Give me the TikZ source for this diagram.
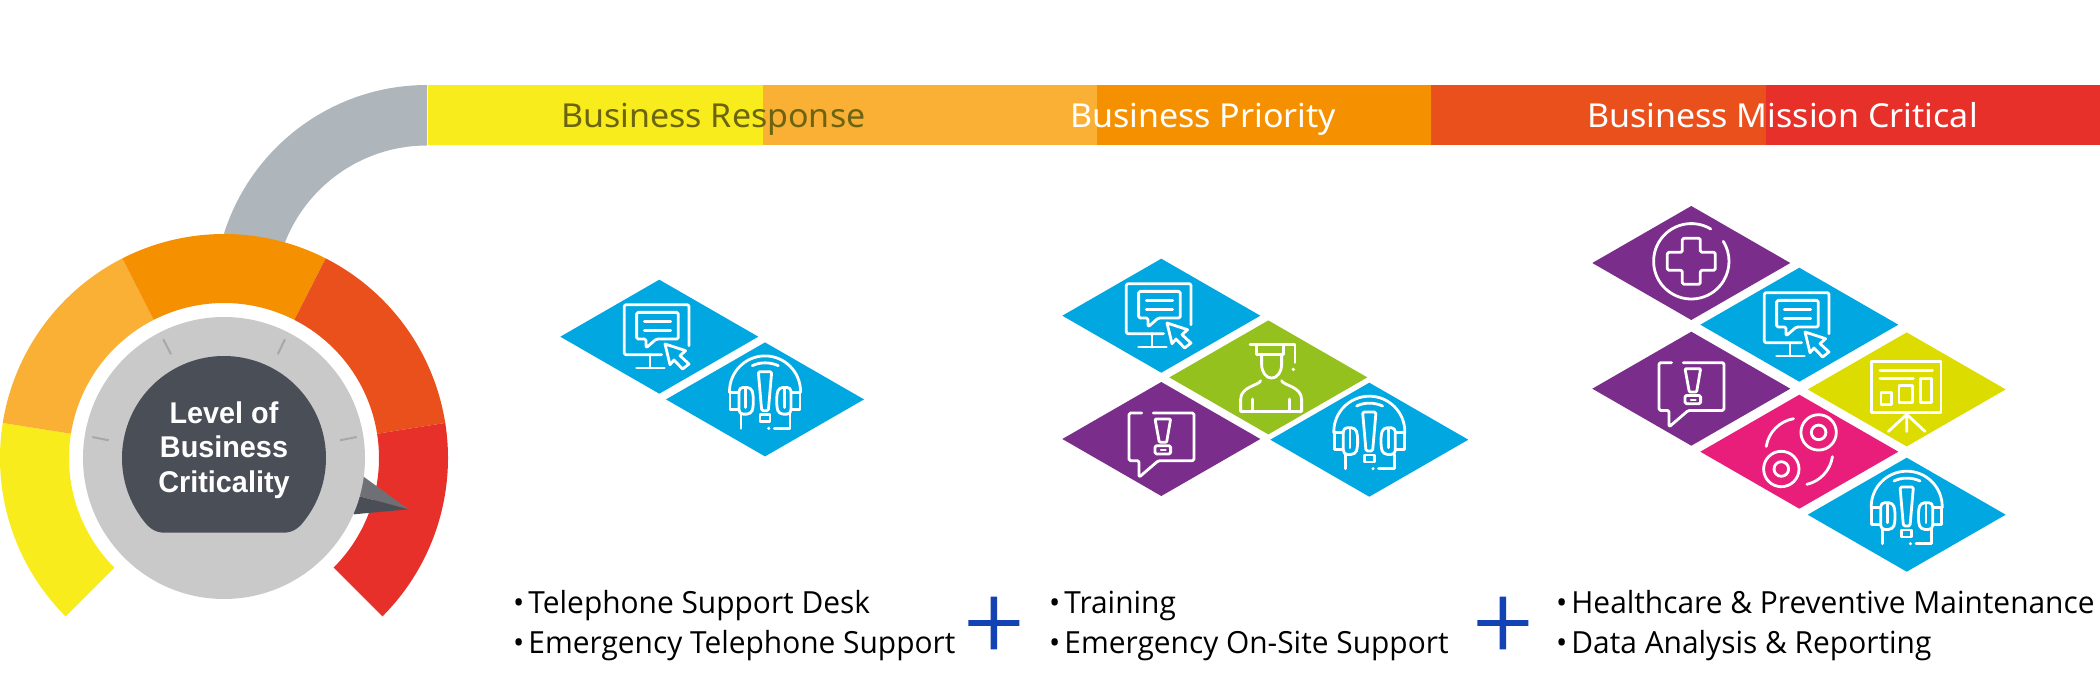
\documentclass[tikz,border=0pt]{standalone}
\usepackage{fontspec}
\setmainfont{Open Sans}
\newfontfamily\barfont[FakeStretch=1.03]{Noto Sans}
\newfontfamily\capfont[FakeStretch=0.96]{Liberation Sans}
\newfontfamily\listfont[FakeStretch=0.98]{Open Sans}
\usetikzlibrary{calc}
\definecolor{cYel}{HTML}{F9EC1C}
\definecolor{cLor}{HTML}{FAB035}
\definecolor{cOra}{HTML}{F59100}
\definecolor{cRor}{HTML}{EA501B}
\definecolor{cRed}{HTML}{E7302A}
\definecolor{cArc}{HTML}{AEB5BB}
\definecolor{cDial}{HTML}{C9C9C9}
\definecolor{cTick}{HTML}{A6A8AA}
\definecolor{cDark}{HTML}{4A4E57}
\definecolor{cPtr}{HTML}{6E7076}
\definecolor{cBarTxt}{HTML}{6B6411}
\definecolor{cBlue}{HTML}{00A7E1}
\definecolor{cGreen}{HTML}{95C11F}
\definecolor{cPurple}{HTML}{7B2D8B}
\definecolor{cLime}{HTML}{DCDC00}
\definecolor{cPink}{HTML}{E91E7B}
\definecolor{cPlus}{HTML}{1342B4}
\tikzset{
  ink/.style={draw=white,line width=2.8pt,line cap=round,line join=round},
  bartext/.style={anchor=base west,inner sep=0pt,font=\barfont\fontsize{33}{33}\selectfont},
  listtext/.style={anchor=base west,inner sep=0pt,font=\listfont\fontsize{30.5}{30.5}\selectfont,text=black},
  tile/.pic={\fill[#1] (-99,0)--(0,-57)--(99,0)--(0,57)--cycle;},
  monitor/.pic={
    \draw[ink,rounded corners=2pt] (2.3,18)--(-35,18)--(-35,-32)--(29.7,-32)--(29.7,9);
    \draw[ink] (-9.3,18)--(-9.3,31.3) (-22.7,31.3)--(5,31.3);
    \draw[ink,rounded corners=1.5pt] (-22.7,-24.3)--(19,-24.3)--(19,2.3)--(-3,2.3)--(-13.3,11.3)--(-13.3,2.3)--(-22.7,2.3)--cycle;
    \draw[ink] (-15,-15)--(11.3,-15) (-15,-6)--(11.3,-6);
    \draw[ink] (5.7,7.3)--(26.3,14)--(20.7,19)--(29.7,27.3)--(23.3,32.3)--(14.7,23.3)--(10.7,28)--cycle;
  },
  headset/.pic={
    \draw[ink] (-35.5,-7)--(-35.5,-8) arc[start angle=180,end angle=0,radius=35.5pt]--(35.5,-7);
    \draw[ink] (-12.7,-33.7) .. controls (-5,-37.5) and (5,-37.5) .. (13.3,-33.7);
    \draw[ink,rounded corners=1.5pt] (-6.7,-27.7)--(6.7,-27.7)--(3.3,11.3)--(-3.3,11.3)--cycle;
    \draw[ink] (-5,15.3) rectangle (5,22.3);
    \draw[ink,rounded corners=4pt] (-26,-12)--(-14,-12)--(-11.7,-5)--(-11.7,8)--(-14,14.7)--(-26,14.7)--cycle;
    \draw[ink,rounded corners=4pt] (26,-12)--(14,-12)--(11.7,-5)--(11.7,8)--(14,14.7)--(26,14.7)--cycle;
    \draw[ink] (-26,-7)--(-35,-7)--(-35,10)--(-26,10) (26,-7)--(35,-7)--(35,10)--(26,10);
    \draw[ink] (-19.3,-10)--(-19.3,8) (19.3,-10)--(19.3,8);
    \draw[ink] (-24,15)--(-24,29);
    \draw[ink] (25,15)--(25,29)--(9.3,29);
    \fill[white] (3.7,29) circle[radius=1.7pt];
  },
  graduate/.pic={
    \draw[ink] (-18.3,-33.3)--(26.7,-33.3)--(26.7,-15);
    \draw[ink] (-11.7,-32)--(-11.7,-23.3)--(15,-23.3)--(15,-32);
    \fill[white] (25,-8) circle[radius=1.8pt];
    \draw[ink] (-6.7,-23.3)--(-6.7,-13.3) .. controls (-6.7,-5) and (-2,0.7) .. (3.3,0.7) .. controls (8.6,0.7) and (13.3,-5) .. (13.3,-13.3)--(13.3,-23.3);
    \draw[ink] (-7.7,3.3) .. controls (-9,8) and (-27.7,9) .. (-27.7,22)--(-27.7,34)--(33.3,34)--(33.3,22) .. controls (33.3,9) and (14.6,8) .. (13.3,3.3);
    \draw[ink] (-15.7,21.7)--(-15.7,34) (21,21.7)--(21,34);
  },
  alert/.pic={
    \draw[ink,rounded corners=1.5pt] (-19.7,-26)--(-32.3,-26)--(-32.3,21.7)--(-22.3,21.7)--(-22.3,38.3)--(-3,21.7)--(32.7,21.7)--(32.7,-26)--(-8,-26);
    \draw[ink,rounded corners=1pt] (-6.3,-20)--(9.3,-20)--(5.3,3.3)--(-2,3.3)--cycle;
    \draw[ink,rounded corners=1.5pt] (-6.3,6.7) rectangle (9.3,15);
    \draw[ink,line width=1.6pt] (-0.5,11)--(4.5,11);
  },
  medical/.pic={
    \draw[ink] (0,-1.7) ++(59:37.7pt) arc[start angle=59,end angle=392,radius=37.7pt];
    \draw[ink,rounded corners=1.5pt] (-9,-24.7)--(9,-24.7)--(9,-10.7)--(24,-10.7)--(24,7.3)--(9,7.3)--(9,21.3)--(-9,21.3)--(-9,7.3)--(-24,7.3)--(-24,-10.7)--(-9,-10.7)--cycle;
  },
  chart/.pic={
    \draw[ink] (-35,-27.7) rectangle (34.3,23);
    \draw[ink] (-26.7,-18.7)--(25.7,-18.7) (-26.7,-11)--(6.7,-11);
    \draw[ink] (-25.7,3) rectangle (-15,14.7);
    \draw[ink] (-7.7,-4.3) rectangle (5.7,13);
    \draw[ink] (14,-11) rectangle (25,13);
    \draw[ink] (0,25)--(-18.3,42) (0,25)--(0,42) (0,25)--(18.3,42);
  },
  discs/.pic={
    \draw[ink] (19.3,-19.3) circle[radius=17.7pt] (19.3,-19.3) circle[radius=7.3pt];
    \draw[ink] (-18,17.3) circle[radius=17.7pt] (-18,17.3) circle[radius=7.3pt];
    \draw[ink] (0,0) ++(100:33.5pt) arc[start angle=100,end angle=171,radius=33.5pt];
    \draw[ink] (0,0) ++(-8.5:33.5pt) arc[start angle=-8.5,end angle=-77,radius=33.5pt];
  }
}
\newcommand{\ringseg}[3]{\fill[#1] ($(g)+(#2:224pt)$) arc[start angle=#2,end angle=#3,radius=224pt] -- ($(g)+(#3:155pt)$) arc[start angle=#3,end angle=#2,radius=155pt] -- cycle;}
\begin{document}
\begin{tikzpicture}[x=1pt,y=-1pt]
\path[use as bounding box] (0,0) rectangle (2100,700);
\coordinate (h) at (427,298);
% connector arc
\fill[cArc] ($(h)+(90:213pt)$) arc[start angle=90,end angle=165,radius=213pt] -- ($(h)+(165:152.5pt)$) arc[start angle=165,end angle=90,radius=152.5pt] -- cycle;
% bar
\fill[cYel] (427.5,85) rectangle (762.5,145.5);
\fill[cLor] (762.5,85) rectangle (1097,145.5);
\fill[cOra] (1097,85) rectangle (1431,145.5);
\fill[cRor] (1431,85) rectangle (1765.5,145.5);
\fill[cRed] (1765.5,85) rectangle (2100,145.5);
\node[bartext,text=cBarTxt] (t1) at (561,128) {Business Response};
\node[bartext,text=white] (t2) at (1070,128) {Business Priority};
\node[bartext,text=white] (t3) at (1587,128) {Business Mission Critical};
% gauge
\begin{scope}[yshift=-1pt]
\coordinate (g) at (224,457);
\ringseg{cYel}{225}{171}
\ringseg{cLor}{171}{117}
\ringseg{cOra}{117}{63}
\ringseg{cRor}{63}{9}
\ringseg{cRed}{9}{-45}
\fill[cPtr] (364,476)--(408.3,508.3)--(358.5,495)--(340,480)--cycle;
\fill[cDark] (358.5,495)--(408.3,508.3)--(354,513.3)--(340,500)--cycle;
\fill[cDial] (g) circle[radius=141pt];
\draw[cTick,line width=2pt] (92.3,436)--(108.7,439.3) (340,439.3)--(356.7,436) (163.3,338.3)--(171,353.3) (285,338.3)--(277.7,353.3);
\fill[cDark] ($(g)+(218:102pt)$) arc[start angle=218,end angle=-38,radius=102pt] .. controls (299,527) and (293,531.7) .. (283,531.7) -- (165,531.7) .. controls (155,531.7) and (149,527) .. cycle;
\node[align=center,text=white,inner sep=0pt,font=\capfont\bfseries\fontsize{30}{34.5}\selectfont] (title) at (224,449) {Level of\\Business\\Criticality};
\end{scope}
% tiles
\begin{scope}[yshift=-0.7pt]
\path (659.3,336) pic {tile=cBlue} pic {monitor};
\path (765,398.7) pic {tile=cBlue} pic {headset};
\path (1161.3,315) pic {tile=cBlue} pic {monitor};
\path (1268.3,376.7) pic {tile=cGreen} pic {graduate};
\path (1161.3,438.3) pic {tile=cPurple} pic {alert};
\path (1369.3,439) pic {tile=cBlue} pic {headset};
\path (1691.3,262.3) pic {tile=cPurple} pic {medical};
\path (1799.3,324) pic {tile=cBlue} pic {monitor};
\path (1691.3,388) pic {tile=cPurple} pic {alert};
\path (1906.7,388.7) pic {tile=cLime} pic {chart};
\path (1799.3,451) pic {tile=cPink} pic {discs};
\path (1906.7,514) pic {tile=cBlue} pic {headset};
\end{scope}
% lists
\node[listtext] (a1) at (513,613.5) {•\kern4pt Telephone Support Desk};
\node[listtext] (a2) at (513,653.5) {•\kern4pt Emergency Telephone Support};
\node[listtext] (b1) at (1049,613.5) {•\kern4pt Training};
\node[listtext] (b2) at (1049,653.5) {•\kern4pt Emergency On-Site Support};
\node[listtext] (c1) at (1556,613.5) {•\kern4pt Healthcare \& Preventive Maintenance};
\node[listtext] (c2) at (1556,653.5) {•\kern4pt Data Analysis \& Reporting};
% plus signs
\fill[cPlus] (968.3,620) rectangle (1019.3,625.8) (990.7,596.7) rectangle (997,649.3);
\fill[cPlus] (1477.3,620) rectangle (1528.3,625.8) (1499.7,596.7) rectangle (1506,649.3);
\end{tikzpicture}
\end{document}
